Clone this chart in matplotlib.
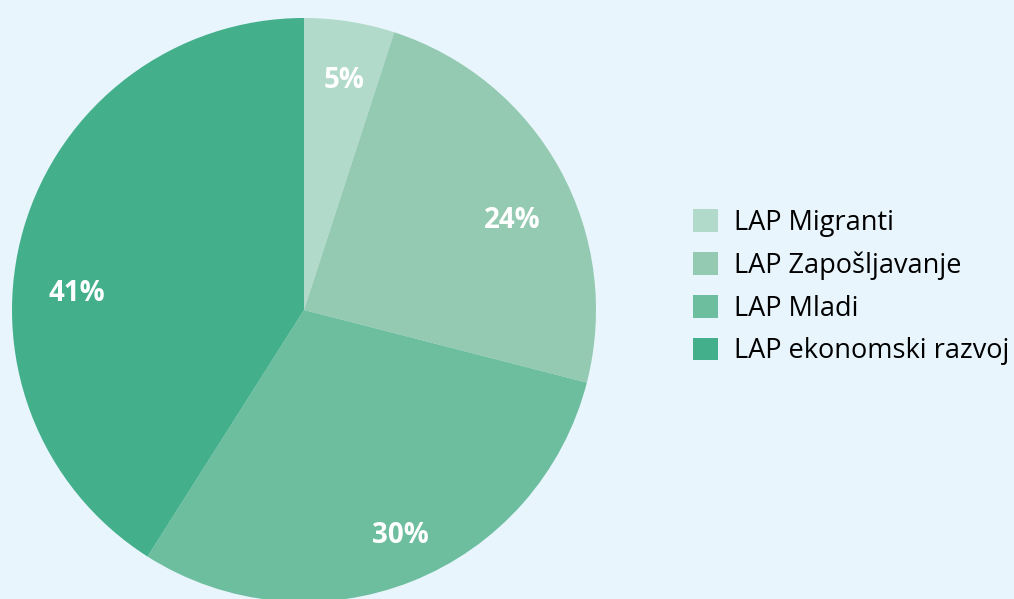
import numpy as np
import matplotlib.pyplot as plt
from matplotlib.patches import Patch

# shares of the LAP programmes (percent)
labels = ['LAP Migranti', 'LAP Zapošljavanje', 'LAP Mladi', 'LAP ekonomski razvoj']
shares = [5, 24, 30, 41]
colors = ['#b2dacb', '#95cab2', '#6dbd9f', '#44b08b']
bg = '#e8f5fc'

# label nudges (degrees clockwise from wedge middle, distance from centre)
lab_shift = [0.7, 4.8, -1.9, -11.2]
lab_dist = [0.81, 0.78, 0.83, 0.78]

plt.rcParams['font.family'] = ['Open Sans', 'DejaVu Sans']

W, H = 1014, 599
fig = plt.figure(figsize=(W / 100, H / 100), dpi=100, facecolor=bg)

# pie centre (304, 310) px, radius 292 px
cx, cy, r = 304, 310, 292
ax = fig.add_axes([(cx - r) / W, (H - cy - r) / H, 2 * r / W, 2 * r / H])
ax.set_facecolor(bg)

wedges, _, autotexts = ax.pie(
    shares, colors=colors, startangle=90, counterclock=False,
    autopct='%d%%', pctdistance=0.79, radius=1,
    wedgeprops={'linewidth': 0},
    textprops={'color': 'white', 'fontsize': 20, 'fontweight': 'bold'},
)
for w, t, s, d in zip(wedges, autotexts, lab_shift, lab_dist):
    a = np.deg2rad((w.theta1 + w.theta2) / 2 - s)
    # small downward nudge (about 3 px) so glyphs sit centred like the original
    t.set_position((d * np.cos(a), d * np.sin(a) - 0.011))

ax.set_xlim(-1, 1)
ax.set_ylim(-1, 1)
ax.set_aspect('auto')
ax.axis('off')

handles = [Patch(facecolor=c, edgecolor='none') for c in colors]
fig.legend(handles, labels, loc='center left',
           bbox_to_anchor=(693 / W, (H - 287) / H),
           frameon=False, fontsize=19.5, borderpad=0, borderaxespad=0,
           handlelength=0.91, handleheight=0.91, handletextpad=0.62,
           labelspacing=0.54)

fig.savefig('out.png', dpi=100, facecolor=bg)
